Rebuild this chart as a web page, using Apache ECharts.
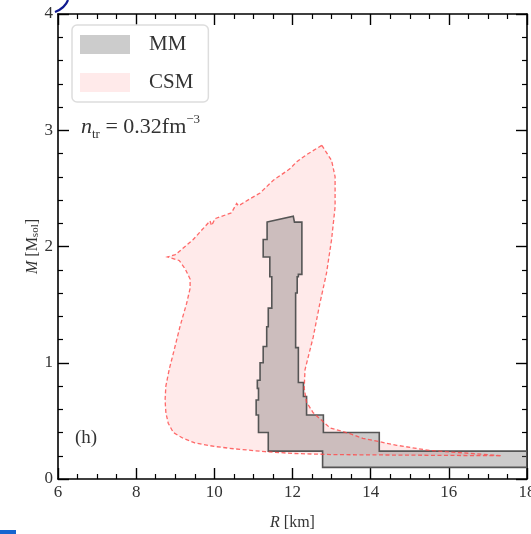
<!DOCTYPE html>
<html><head><meta charset="utf-8">
<script src="https://cdn.jsdelivr.net/npm/echarts@6/dist/echarts.min.js"></script>
<style>html,body{margin:0;padding:0;background:#fff}#c{width:531px;height:534px}</style>
</head><body><div id="c"></div>
<script>
// ---- data ----
const xTicks = [6, 8, 10, 12, 14, 16, 18];
const yTicks = [0, 1, 2, 3, 4];
const seriesNames = ['MM', 'CSM'];
// CSM region outline (R [km], M [Msol])
const csmR = [12.75,13.00,13.09,13.09,13.00,12.87,12.70,12.53,12.32,12.30,12.36,12.53,12.96,13.47,13.80,14.67,15.52,16.36,17.35,15.00,13.00,12.00,11.30,10.50,10.00,9.50,9.20,8.95,8.82,8.76,8.74,8.76,8.85,8.95,9.12,9.29,9.38,9.38,9.25,9.10,8.80,9.00,9.04,9.46,9.89,9.93,10.02,10.44,10.57,10.62,10.91,11.17,11.51,11.94,12.11,12.36];
const csmM = [2.87,2.74,2.60,2.34,2.06,1.77,1.51,1.22,0.94,0.78,0.66,0.57,0.44,0.39,0.35,0.29,0.245,0.225,0.20,0.205,0.21,0.22,0.235,0.26,0.28,0.31,0.35,0.40,0.48,0.57,0.68,0.80,0.95,1.08,1.31,1.51,1.64,1.72,1.81,1.88,1.91,1.93,1.94,2.06,2.22,2.18,2.24,2.29,2.37,2.35,2.41,2.46,2.57,2.67,2.73,2.79];
// MM region outline
const mmR = [11.35,12.02,12.05,12.24,12.24,12.15,12.15,12.12,12.12,12.08,12.08,12.15,12.15,12.28,12.28,12.36,12.36,12.79,12.79,14.22,14.22,18.00,18.00,12.77,12.77,11.38,11.38,11.13,11.13,11.07,11.07,11.13,11.13,11.10,11.10,11.17,11.17,11.25,11.25,11.34,11.34,11.38,11.38,11.47,11.47,11.42,11.42,11.25,11.25,11.35];
const mmM = [2.21,2.26,2.21,2.21,1.76,1.76,1.74,1.74,1.60,1.60,1.13,1.13,0.83,0.83,0.71,0.71,0.55,0.55,0.40,0.40,0.24,0.24,0.10,0.10,0.24,0.24,0.40,0.40,0.55,0.55,0.68,0.68,0.78,0.78,0.85,0.85,1.00,1.00,1.14,1.14,1.31,1.31,1.47,1.47,1.74,1.74,1.91,1.91,2.06,2.06];

const SERIF = 'Liberation Serif';
const chart = echarts.init(document.getElementById('c'), null, {renderer: 'canvas'});

function toData(R, M) { return R.map((r, i) => [r, M[i]]); }
function polyRender(R, M, style) {
  return function (params, api) {
    if (params.dataIndex !== 0) return null;
    const pts = R.map((r, i) => api.coord([r, M[i]]));
    return {type: 'polygon', shape: {points: pts}, style: style};
  };
}

const tickStyle = {color: '#000', width: 1.4};
function xAxisDef(pos, showLabel) {
  return {
    type: 'value', min: xTicks[0], max: xTicks[xTicks.length - 1], interval: 2, position: pos,
    axisLine: {show: true, onZero: false, lineStyle: {color: '#000', width: 1.6}},
    axisTick: {show: true, inside: true, length: 11, lineStyle: tickStyle},
    minorTick: {show: true, splitNumber: 4, length: 5, lineStyle: {color: '#000', width: 1.2}},
    splitLine: {show: false}, minorSplitLine: {show: false},
    axisLabel: {show: showLabel, fontFamily: SERIF, fontSize: 17, color: '#333', margin: 5,
      showMinLabel: true, showMaxLabel: true},
    name: showLabel ? '{i|R} [km]' : '', nameLocation: 'middle', nameGap: 36, nameMoveOverlap: false,
    nameTextStyle: {fontFamily: SERIF, fontSize: 16, color: '#333',
      rich: {i: {fontFamily: SERIF, fontStyle: 'italic', fontSize: 16, color: '#333'}}}
  };
}
function yAxisDef(pos, showLabel) {
  return {
    type: 'value', min: yTicks[0], max: yTicks[yTicks.length - 1], interval: 1, position: pos,
    axisLine: {show: true, onZero: false, lineStyle: {color: '#000', width: 1.6}},
    axisTick: {show: true, inside: true, length: 11, lineStyle: tickStyle},
    minorTick: {show: true, splitNumber: 5, length: 5, lineStyle: {color: '#000', width: 1.2}},
    splitLine: {show: false}, minorSplitLine: {show: false},
    axisLabel: {show: showLabel, fontFamily: SERIF, fontSize: 17, color: '#333', margin: 5,
      showMinLabel: true, showMaxLabel: true},
    name: showLabel ? '{i|M} [M{s|sol}]' : '', nameLocation: 'middle', nameGap: 17, nameRotate: 90,
    nameMoveOverlap: false,
    nameTextStyle: {fontFamily: SERIF, fontSize: 16, color: '#333',
      rich: {i: {fontFamily: SERIF, fontStyle: 'italic', fontSize: 16, color: '#333'},
             s: {fontFamily: SERIF, fontSize: 11, color: '#333', verticalAlign: 'bottom'}}}
  };
}

const option = {
  animation: false,
  backgroundColor: '#fff',
  grid: {left: 58, right: 4, top: 14, bottom: 55, containLabel: false, outerBoundsMode: 'none'},
  xAxis: [xAxisDef('bottom', true), xAxisDef('top', false)],
  yAxis: [yAxisDef('left', true), yAxisDef('right', false)],
  legend: {
    data: [
      {name: seriesNames[0], itemStyle: {color: '#cccccc', borderWidth: 0}},
      {name: seriesNames[1], itemStyle: {color: '#ffeaea', borderWidth: 0}}
    ],
    orient: 'vertical', left: 72, top: 25, icon: 'rect',
    itemWidth: 50, itemHeight: 19, itemGap: 17,
    padding: [9, 15, 9, 8],
    borderColor: '#dddddd', borderWidth: 1.5, borderRadius: 5, backgroundColor: '#fff',
    textStyle: {fontFamily: SERIF, fontSize: 21, color: '#333', padding: [0, 0, 0, 14], lineHeight: 19},
    selectedMode: false
  },
  graphic: [
    {type: 'text', left: 81, top: 113, z: 100,
      style: {text: '{i|n}{s|tr} = 0.32fm{p|−3}', fill: '#333',
        rich: {
          i: {fontFamily: SERIF, fontStyle: 'italic', fontSize: 22, fill: '#333', lineHeight: 28},
          s: {fontFamily: SERIF, fontSize: 13, fill: '#333', verticalAlign: 'bottom', lineHeight: 28},
          p: {fontFamily: SERIF, fontSize: 13, fill: '#333', verticalAlign: 'top', lineHeight: 28}
        },
        font: '22px "Liberation Serif"'}},
    {type: 'text', left: 75, top: 429, z: 100,
      style: {text: '(h)', font: '19px "Liberation Serif"', fill: '#333'}},
    {type: 'rect', left: 0, top: 530, shape: {width: 16, height: 4}, style: {fill: '#1565d0'}},
    {type: 'bezierCurve', z: 100,
      shape: {x1: 68, y1: 0, cpx1: 65, cpy1: 8, x2: 55, y2: 12},
      style: {stroke: '#101a90', lineWidth: 2.2, fill: 'none'}}
  ],
  series: [
    {name: seriesNames[1], type: 'custom', clip: true, xAxisIndex: 0, yAxisIndex: 0,
      itemStyle: {color: '#ffeaea'}, encode: {x: 0, y: 1},
      data: toData(csmR, csmM),
      renderItem: polyRender(csmR, csmM, {fill: '#ffeaea', stroke: 'none'}), z: 2},
    {name: seriesNames[0], type: 'custom', clip: true, xAxisIndex: 0, yAxisIndex: 0,
      itemStyle: {color: '#cccccc'}, encode: {x: 0, y: 1},
      data: toData(mmR, mmM),
      renderItem: polyRender(mmR, mmM, {fill: 'rgba(115,110,110,0.36)', stroke: '#555', lineWidth: 1.6}), z: 3},
    {name: 'CSM outline', type: 'custom', clip: true, xAxisIndex: 0, yAxisIndex: 0,
      encode: {x: 0, y: 1},
      data: toData(csmR, csmM),
      renderItem: polyRender(csmR, csmM, {fill: 'none', stroke: 'rgba(255,70,70,0.8)', lineWidth: 1.3, lineDash: [4, 2.5]}), z: 4}
  ]
};
chart.setOption(option);
</script>
</body></html>
